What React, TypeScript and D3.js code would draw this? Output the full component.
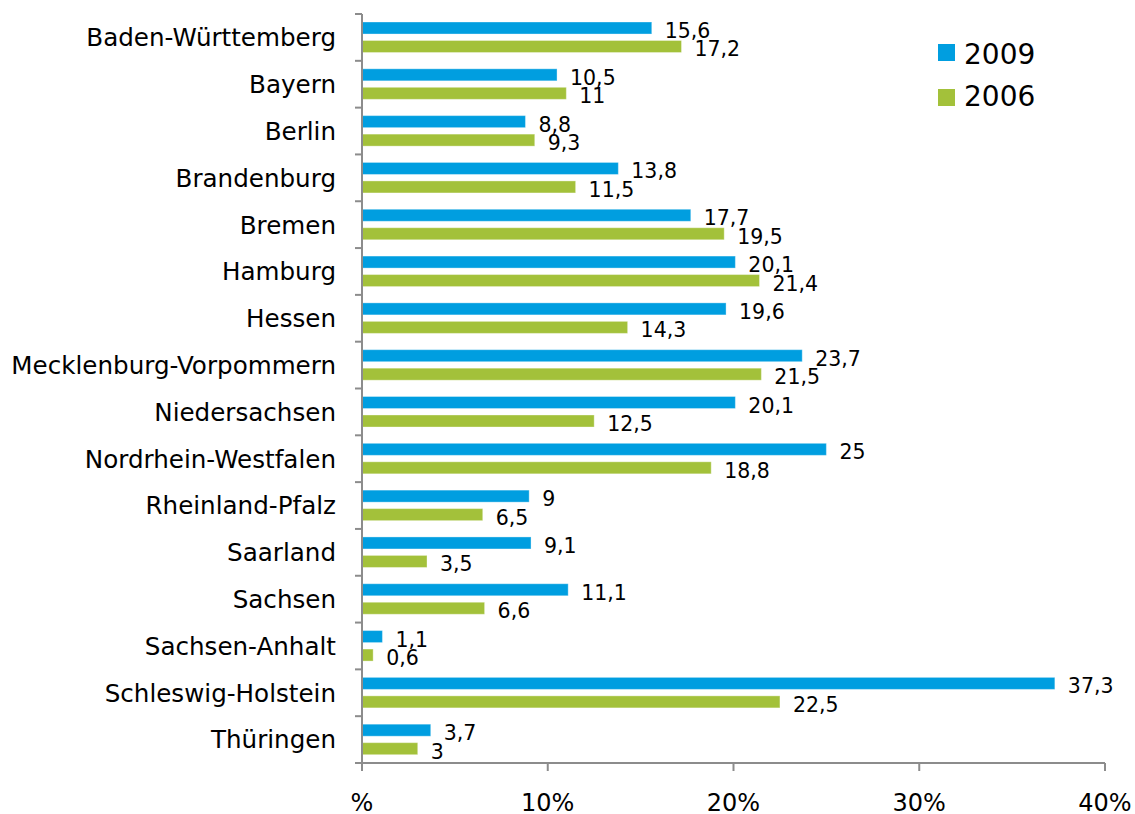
import React from "react";
import * as d3 from "d3";

const categories = [
  "Baden-Württemberg",
  "Bayern",
  "Berlin",
  "Brandenburg",
  "Bremen",
  "Hamburg",
  "Hessen",
  "Mecklenburg-Vorpommern",
  "Niedersachsen",
  "Nordrhein-Westfalen",
  "Rheinland-Pfalz",
  "Saarland",
  "Sachsen",
  "Sachsen-Anhalt",
  "Schleswig-Holstein",
  "Thüringen",
];
const values2009 = [15.6, 10.5, 8.8, 13.8, 17.7, 20.1, 19.6, 23.7, 20.1, 25, 9, 9.1, 11.1, 1.1, 37.3, 3.7];
const values2006 = [17.2, 11, 9.3, 11.5, 19.5, 21.4, 14.3, 21.5, 12.5, 18.8, 6.5, 3.5, 6.6, 0.6, 22.5, 3];
const seriesNames = ["2009", "2006"];
const seriesColors = ["#009EE0", "#A3C13A"];
const xTicks = [0, 10, 20, 30, 40];
const xTickLabels = ["%", "10%", "20%", "30%", "40%"];

const W = 1135;
const H = 814;
const left = 362;
const right = 1105;
const top = 14;
const bottom = 763;
const FONT = "'DejaVu Sans', Verdana, sans-serif";
const AXIS = "#8c8c8c";

const fmt = (v: number) => String(v).replace(".", ",");

export default function App() {
  const x = d3.scaleLinear().domain([0, 40]).range([left, right]);
  const y = d3.scaleBand<string>().domain(categories).range([top, bottom]).paddingInner(0).paddingOuter(0);
  const sub = d3
    .scaleBand<string>()
    .domain(seriesNames)
    .range([8, y.bandwidth() - 8.3])
    .paddingInner(0.35)
    .paddingOuter(0);
  const data = [values2009, values2006];
  const boundaries = d3.range(categories.length + 1).map((i) => top + i * y.step());

  return (
    <svg
      width={W}
      height={H}
      style={{ position: "absolute", left: 0, top: 0, background: "#fff" }}
      fontFamily={FONT}
    >
      {/* bars */}
      {categories.map((c, i) => (
        <g key={c}>
          {seriesNames.map((s, k) => {
            const v = data[k][i];
            const by = (y(c) as number) + (sub(s) as number);
            return (
              <g key={s}>
                <rect
                  x={x(0)}
                  y={by}
                  width={x(v) - x(0)}
                  height={sub.bandwidth()}
                  fill={seriesColors[k]}
                  stroke="#ffffff"
                  strokeOpacity={0.35}
                  strokeWidth={1}
                />
                <text x={x(v) + 13} y={by + 16} fontSize={20.5} fill="#000">
                  {fmt(v)}
                </text>
              </g>
            );
          })}
          <text
            x={336}
            y={(y(c) as number) + y.bandwidth() / 2}
            dy="0.36em"
            textAnchor="end"
            fontSize={24.6}
            fill="#000"
          >
            {c}
          </text>
        </g>
      ))}

      {/* y axis */}
      <line x1={left} x2={left} y1={top} y2={bottom} stroke={AXIS} strokeWidth={2} />
      {boundaries.map((b, i) => (
        <line key={i} x1={left - 7} x2={left} y1={b} y2={b} stroke={AXIS} strokeWidth={2} />
      ))}

      {/* x axis */}
      <line x1={left - 1} x2={right} y1={bottom} y2={bottom} stroke={AXIS} strokeWidth={2} />
      {xTicks.map((t, i) => (
        <g key={t}>
          <line x1={x(t)} x2={x(t)} y1={bottom} y2={bottom + 8} stroke={AXIS} strokeWidth={2} />
          <text x={x(t)} y={bottom + 48} textAnchor="middle" fontSize={24} fill="#000">
            {xTickLabels[i]}
          </text>
        </g>
      ))}

      {/* legend */}
      {seriesNames.map((s, k) => (
        <g key={s}>
          <rect x={938} y={44 + k * 45} width={17} height={17} fill={seriesColors[k]} />
          <text x={964} y={64 + k * 42} fontSize={28} fill="#000">
            {s}
          </text>
        </g>
      ))}
    </svg>
  );
}
